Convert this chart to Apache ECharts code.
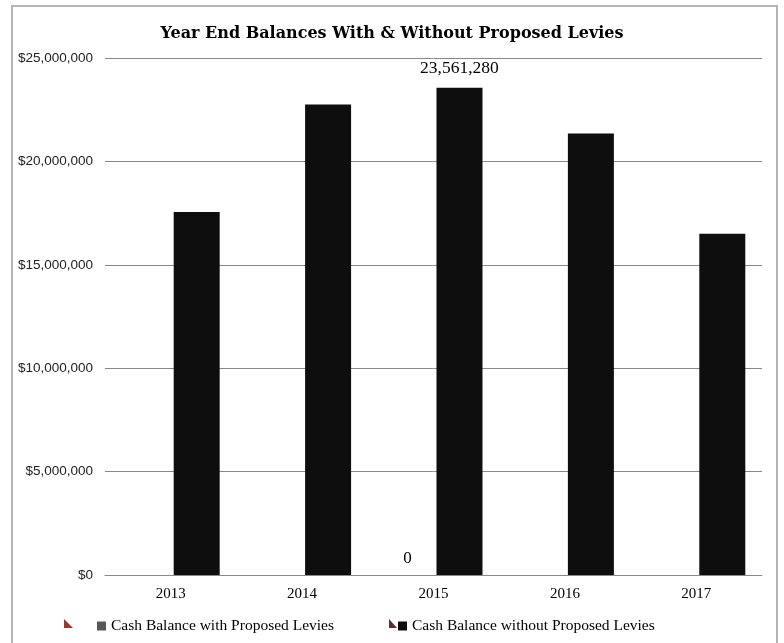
<!DOCTYPE html>
<html><head><meta charset="utf-8">
<script src="https://cdn.jsdelivr.net/npm/echarts@6/dist/echarts.min.js"></script>
<style>html,body{margin:0;padding:0;background:#fff}#c{width:784px;height:643px}</style>
</head><body><div id="c"></div>
<script>
const categories = ['2013','2014','2015','2016','2017'];
const withLevies = [0, 0, 0, 0, 0];
const withoutLevies = [17550000, 22750000, 23561280, 21350000, 16500000];
const yTicks = [0, 5000000, 10000000, 15000000, 20000000, 25000000];
const labelIndex = 2;

const serif = '"Liberation Serif", serif';
const chart = echarts.init(document.getElementById('c'));
function mk(arr){ return arr.map((v,i)=> i===labelIndex ? {value:v, label:{show:true}} : v); }
chart.setOption({
  animation:false,
  title:{text:'Year End Balances With & Without Proposed Levies', left:'center', top:21,
    textStyle:{fontFamily:'"DejaVu Serif", serif', fontWeight:'bold', fontSize:16, color:'#000'}},
  graphic:[
    {type:'rect', shape:{x:12,y:6,width:765,height:680}, style:{fill:'none', stroke:'#b4b4b4', lineWidth:2}, z:-1},
    {type:'polygon', shape:{points:[[64,619],[64,628],[73,628]]}, style:{fill:'#9e3535'}},
    {type:'polygon', shape:{points:[[389,619],[389,628],[397,628]]}, style:{fill:'#6b2a2a'}}
  ],
  legend:[
    {data:['Cash Balance with Proposed Levies'], left:97, top:618, padding:0, itemWidth:9, itemHeight:9, icon:'rect',
      textStyle:{fontFamily:serif, fontSize:15.5, color:'#000'}},
    {data:['Cash Balance without Proposed Levies'], left:398, top:618, padding:0, itemWidth:9, itemHeight:9, icon:'rect',
      textStyle:{fontFamily:serif, fontSize:15.5, color:'#000'}}
  ],
  grid:{left:105, right:22, top:58, bottom:68},
  xAxis:{type:'category', data:categories,
    axisLine:{lineStyle:{color:'#888'}}, axisTick:{show:false},
    axisLabel:{fontFamily:serif, fontSize:15, color:'#000', margin:12}},
  yAxis:{type:'value', min:yTicks[0], max:yTicks[yTicks.length-1], interval:5000000,
    axisLine:{show:false}, axisTick:{show:false},
    splitLine:{lineStyle:{color:'#888'}},
    axisLabel:{fontFamily:'"Liberation Sans", sans-serif', fontSize:13.5, color:'#222', margin:12,
      formatter:v=>'$'+v.toLocaleString('en-US')}},
  series:[
    {name:'Cash Balance with Proposed Levies', type:'bar', data:mk(withLevies), barWidth:46, barGap:'13%',
      itemStyle:{color:'#595959'},
      label:{show:false, position:'top', distance:8, fontFamily:serif, fontSize:17, color:'#000', formatter:p=>p.value.toLocaleString('en-US')}},
    {name:'Cash Balance without Proposed Levies', type:'bar', data:mk(withoutLevies), barWidth:46,
      itemStyle:{color:'#0e0e0e'},
      label:{show:false, position:'top', distance:10, fontFamily:serif, fontSize:17.5, color:'#000', formatter:p=>p.value.toLocaleString('en-US')}}
  ]
});
</script></body></html>
